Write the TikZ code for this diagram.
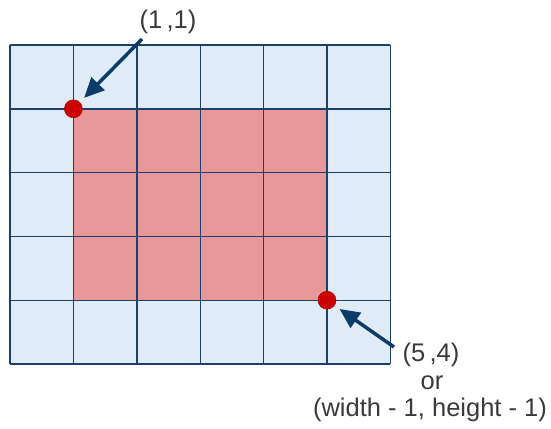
\documentclass[tikz,border=0pt]{standalone}
\usepackage{fontspec}
\setmainfont{Liberation Sans}
\usetikzlibrary{arrows.meta}
\definecolor{cellblue}{HTML}{DFEBF7}
\definecolor{cellred}{HTML}{E89898}
\definecolor{gridnavy}{HTML}{1B3F6E}
\definecolor{dotred}{HTML}{CC0000}
\definecolor{arrownavy}{HTML}{0E3C6A}
\definecolor{labelgray}{HTML}{3A3A3A}
\tikzset{
  gridline/.style={draw=gridnavy, line width=1.4pt},
  corner/.style={circle, fill=dotred, draw=dotred!80!black, line width=0.5pt, minimum size=18pt, inner sep=0pt},
  pointer/.style={draw=arrownavy, line width=3.5pt, -{Triangle[length=20pt,width=18pt]}, shorten >=6pt},
  coordlabel/.style={text=labelgray, font=\fontsize{25.5}{30}\selectfont, inner sep=0pt}
}
\begin{document}
\begin{tikzpicture}[x=1pt, y=-1pt]
    \useasboundingbox (0,0) rectangle (551,428);
    % pixel grid, 6 x 5
    \begin{scope}[shift={(10,45)}, x=63.4pt, y=-63.8pt]
        \fill[cellblue] (0,0) rectangle (6,5);
        \fill[cellred] (1,1) rectangle (5,4);
        \foreach \i in {0,...,6}
            \draw[gridline] (\i,0) -- (\i,5);
        \foreach \j in {0,...,5}
            \draw[gridline] (0,\j) -- (6,\j);
        \node[corner] (topleft) at (1,1) {};
        \node[corner] (botright) at (5,4) {};
    \end{scope}
    % labels
    \node[coordlabel] (lbltl) at (168,22) {(1\,,1)};
    \node[coordlabel] (lblbr) at (431,355) {(5\,,4)};
    \node[coordlabel] (lblor) at (432,383) {or};
    \node[coordlabel] (lblwh) at (430,410) {(width - 1, height - 1)};
    % pointers
    \coordinate (tailtl) at (142,39);
    \coordinate (tailbr) at (394,347);
    \draw[pointer] (tailtl) -- (topleft);
    \draw[pointer] (tailbr) -- (botright);
\end{tikzpicture}
\end{document}
